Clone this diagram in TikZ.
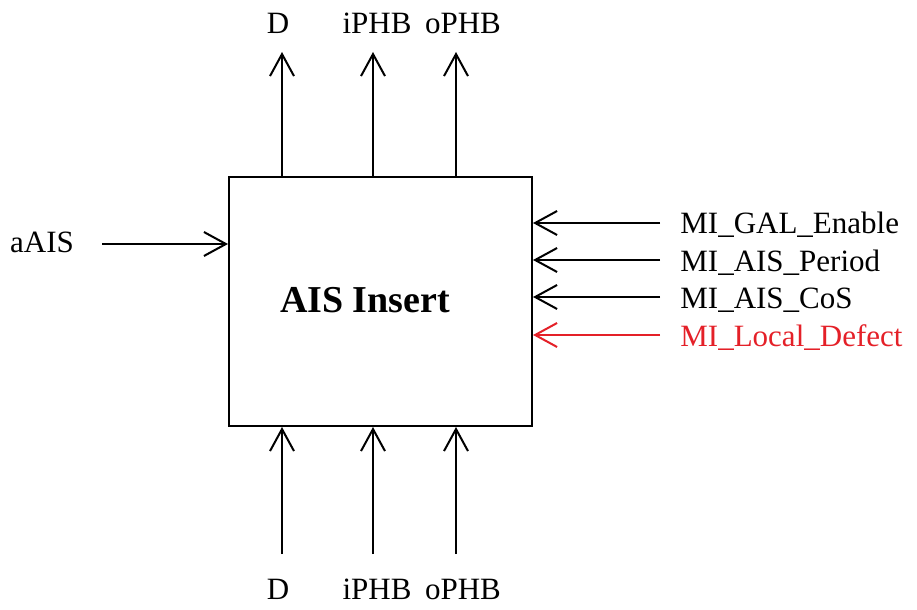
\documentclass[tikz,border=0pt]{standalone}
\usepackage{fontspec}
\setmainfont{Liberation Serif}
\usepackage{xcolor}
\usetikzlibrary{positioning,calc,arrows.meta}

\definecolor{defectred}{RGB}{228,32,40}

\tikzset{
  sig/.style={line width=1pt, -{Straight Barb[length=11pt,width=12pt]}},
  lbl/.style={font=\fontsize{15.5}{18}\selectfont, inner sep=0pt},
}

\begin{document}
\begin{tikzpicture}[x=0.5pt, y=-0.5pt]
  \useasboundingbox (0,0) rectangle (917,610);

  % AIS Insert block
  \node[draw, line width=1pt, minimum width=151.5pt, minimum height=124.5pt, inner sep=0pt] (ais) at (380.5, 301.5) {};
  \node[font=\bfseries\fontsize{19}{22}\selectfont, inner sep=0pt] (aisname) at (365, 300) {AIS Insert};

  % D, iPHB, oPHB out at the top, in at the bottom
  \foreach \i/\x/\lx/\name in {1/282/278/D, 2/373/377/iPHB, 3/456/463/oPHB} {
    \coordinate (top\i) at (\x, 52);
    \coordinate (bot\i) at (\x, 554);
    \node[lbl, anchor=base] (toplbl\i) at (\lx, 34) {\name};
    \node[lbl, anchor=base] (botlbl\i) at (\lx, 599) {\name};
    \draw[sig] (ais.north -| top\i) -- (top\i);
    \draw[sig] (bot\i) -- (ais.south -| bot\i);
  }

  % aAIS in from the left
  \node[lbl, anchor=base] (aais) at (42, 253) {aAIS};
  \coordinate (aaisin) at (102, 244);
  \draw[sig] (aaisin) -- (ais.west |- aaisin);

  % MI signals in from the right
  \foreach \i/\y/\name/\col in {
    1/223/MI\_GAL\_Enable/black,
    2/260/MI\_AIS\_Period/black,
    3/297/MI\_AIS\_CoS/black,
    4/335/MI\_Local\_Defect/defectred} {
    \coordinate (miin\i) at (660, \y);
    \node[lbl, anchor=base west, text=\col] (mi\i) at (680, {\y + 11}) {\name};
    \draw[sig, \col] (miin\i) -- (ais.east |- miin\i);
  }
\end{tikzpicture}
\end{document}
